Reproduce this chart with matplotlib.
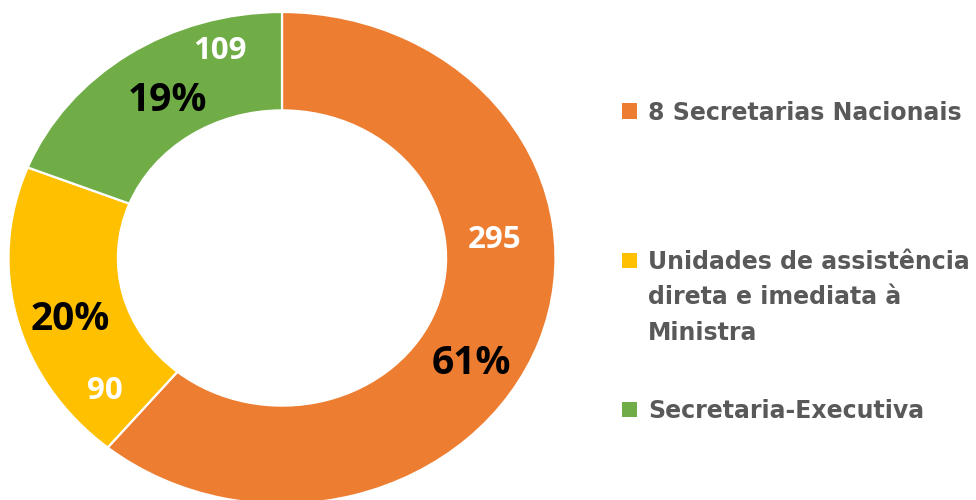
import matplotlib
matplotlib.use("Agg")
import matplotlib.pyplot as plt
from matplotlib.patches import Rectangle

# Data
categories = [
    "8 Secretarias Nacionais",
    "Unidades de assistência\ndireta e imediata à\nMinistra",
    "Secretaria-Executiva",
]
counts = [295, 90, 109]
shares = [61, 20, 19]          # percent of staff per unit
colors = ["#ED7D31", "#FFC000", "#70AD47"]

plt.rcParams["font.family"] = ["Open Sans", "DejaVu Sans"]

W, H = 976, 500
fig = plt.figure(figsize=(W / 100, H / 100), dpi=100)
fig.patch.set_facecolor("white")

# Donut area (slightly flattened ring, bottom touching the figure edge)
ax = fig.add_axes([8.5 / W, -4 / H, 547 / W, 492 / H])
ax.pie(
    shares,
    colors=colors,
    startangle=90,
    counterclock=False,
    radius=1.0,
    wedgeprops=dict(width=0.40, edgecolor="white", linewidth=1.6),
)
ax.set_aspect("auto")
ax.set_xlim(-1, 1)
ax.set_ylim(-1, 1)
ax.axis("off")

# Label placement (data coords) for counts and percentages
count_pos = [(0.776, 0.072), (-0.647, -0.540), (-0.227, 0.840)]
pct_pos = [(0.691, -0.428), (-0.775, -0.250), (-0.417, 0.640)]

for (x, y), c in zip(count_pos, counts):
    ax.text(x, y, f"{c}", color="white", fontsize=22.5, fontweight="bold",
            ha="center", va="center")
for (x, y), p in zip(pct_pos, shares):
    ax.text(x, y, f"{p}%", color="black", fontsize=28, fontweight="bold",
            ha="center", va="center")

# Legend drawn on the right
legend_rows = [111, 260, 409]   # pixel row of each entry's first line
line_gap = 35.5
for label, col, row in zip(categories, colors, legend_rows):
    fig.patches.append(Rectangle((621.5 / W, 1 - (row + 7.5) / H), 15 / W, 15 / H,
                                 transform=fig.transFigure, facecolor=col,
                                 edgecolor="none"))
    for i, line in enumerate(label.split("\n")):
        fig.text(648 / W, 1 - (row + 2 + i * line_gap) / H, line, color="#595959",
                 fontsize=17, fontweight="bold", ha="left", va="center",
                 family=["DejaVu Sans"])

fig.savefig("out.png", dpi=100, facecolor="white")
